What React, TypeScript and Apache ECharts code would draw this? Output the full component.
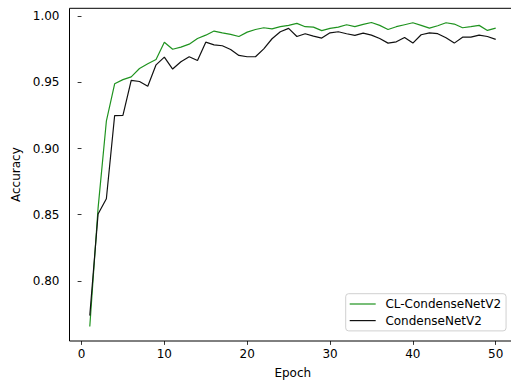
import React, { useEffect, useRef } from "react";
import * as echarts from "echarts";

const epochs: number[] = Array.from({ length: 50 }, (_, i) => i + 1);

const clCondenseNetV2: number[] = [
  0.7655, 0.855, 0.9206, 0.9489, 0.952, 0.9541, 0.9604, 0.964, 0.9672, 0.9803,
  0.975, 0.9766, 0.9788, 0.9831, 0.9856, 0.9887, 0.9874, 0.9862, 0.9846, 0.9879,
  0.9899, 0.9912, 0.9904, 0.992, 0.993, 0.9945, 0.992, 0.9917, 0.989, 0.9907,
  0.9917, 0.9935, 0.992, 0.9937, 0.9952, 0.993, 0.9899, 0.992, 0.9935, 0.995,
  0.993, 0.9909, 0.9927, 0.995, 0.994, 0.9912, 0.992, 0.993, 0.9892, 0.9909,
];

const condenseNetV2: number[] = [
  0.7738, 0.8505, 0.862, 0.9249, 0.925, 0.9514, 0.9506, 0.947, 0.9632, 0.969,
  0.96, 0.9655, 0.9693, 0.9665, 0.9803, 0.9783, 0.9776, 0.9748, 0.9703, 0.9693,
  0.9693, 0.9753, 0.9829, 0.9882, 0.9907, 0.9846, 0.9867, 0.9849, 0.9834, 0.9874,
  0.9882, 0.9867, 0.9854, 0.9872, 0.9856, 0.9831, 0.9796, 0.9806, 0.9839, 0.9796,
  0.9859, 0.9874, 0.9867, 0.9836, 0.9796, 0.9841, 0.9841, 0.9856, 0.9846, 0.9824,
];

const xTicks: number[] = [0, 10, 20, 30, 40, 50];
const yTicks: number[] = [0.8, 0.85, 0.9, 0.95, 1.0];

const FONT = "DejaVu Sans";
const LINE_ICON = "path://M0,0 H26 V1.2 H0 Z";

export default function App() {
  const ref = useRef<HTMLDivElement>(null);

  useEffect(() => {
    if (!ref.current) return;
    const chart = echarts.init(ref.current, undefined, { renderer: "svg" });
    const textStyle = { fontFamily: FONT, fontSize: 12, color: "#000" };
    chart.setOption({
      animation: false,
      backgroundColor: "#fff",
      grid: {
        left: 69.5,
        top: 8.3,
        width: 446.5,
        height: 332.7,
        outerBoundsMode: "none",
        containLabel: false,
        show: true,
        borderColor: "#000",
        borderWidth: 1,
        backgroundColor: "transparent",
      },
      xAxis: {
        type: "value",
        min: -1.45,
        max: 52.45,
        name: "Epoch",
        nameLocation: "middle",
        nameGap: 26,
        nameTextStyle: textStyle,
        axisLine: { show: false },
        splitLine: { show: false },
        axisTick: {
          show: true,
          length: 3.9,
          lineStyle: { color: "#000", width: 0.8 },
          customValues: xTicks,
        },
        axisLabel: {
          ...textStyle,
          margin: 7,
          customValues: xTicks,
          formatter: (v: number) => String(v),
        },
      },
      yAxis: {
        type: "value",
        min: 0.7546,
        max: 1.0059,
        name: "Accuracy",
        nameLocation: "middle",
        nameGap: 39.5,
        nameRotate: 90,
        nameTextStyle: textStyle,
        axisLine: { show: false },
        splitLine: { show: false },
        axisTick: {
          show: true,
          length: 3.9,
          lineStyle: { color: "#000", width: 0.8 },
          customValues: yTicks,
        },
        axisLabel: {
          ...textStyle,
          margin: 10,
          customValues: yTicks,
          formatter: (v: number) => v.toFixed(2),
        },
      },
      legend: {
        orient: "vertical",
        left: 345.7,
        top: 293.7,
        padding: [4.3, 5, 4.3, 4],
        itemWidth: 26,
        itemHeight: 14,
        itemGap: 4.6,
        symbolKeepAspect: true,
        backgroundColor: "#fff",
        borderColor: "#d0d0d0",
        borderWidth: 1,
        borderRadius: 3,
        textStyle: { ...textStyle, padding: [0, 0, 0, 4.7] },
        data: [
          { name: "CL-CondenseNetV2", icon: LINE_ICON },
          { name: "CondenseNetV2", icon: LINE_ICON },
        ],
      },
      series: [
        {
          name: "CL-CondenseNetV2",
          type: "line",
          data: epochs.map((e, i) => [e, clCondenseNetV2[i]]),
          symbol: "none",
          showSymbol: false,
          lineStyle: { color: "#1f931f", width: 1.2 },
          itemStyle: { color: "#1f931f" },
        },
        {
          name: "CondenseNetV2",
          type: "line",
          data: epochs.map((e, i) => [e, condenseNetV2[i]]),
          symbol: "none",
          showSymbol: false,
          lineStyle: { color: "#111", width: 1.2 },
          itemStyle: { color: "#111" },
        },
      ],
    });
    return () => chart.dispose();
  }, []);

  return (
    <div
      ref={ref}
      style={{ width: 511, height: 381, position: "absolute", left: 0, top: 0 }}
    />
  );
}
